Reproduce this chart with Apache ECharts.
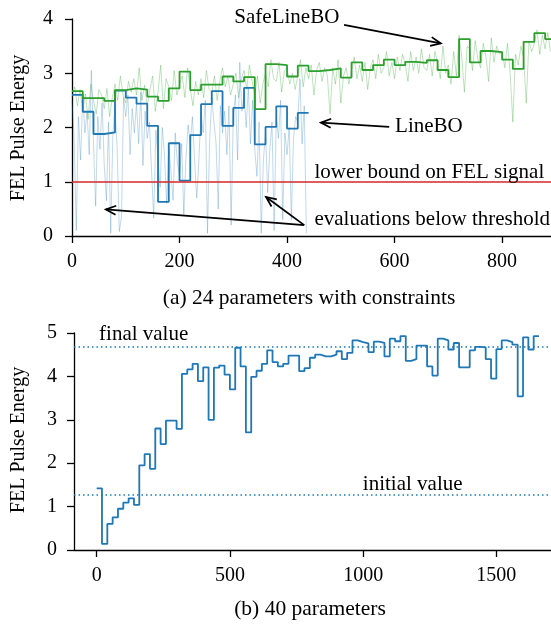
<!DOCTYPE html>
<html><head><meta charset="utf-8">
<script src="https://cdn.jsdelivr.net/npm/echarts@6/dist/echarts.min.js"></script>
<style>html,body{margin:0;padding:0;background:#fff;}#c{width:551px;height:632px;}</style>
</head><body><div id="c"></div>
<script>
// ---------- DATA ----------
// (a) 24 parameters with constraints: step values per line-search segment (segment length in iterations)
const segLenA = 20;
const safeLineBOStep = [2.67, 2.54, 2.54, 2.49, 2.69, 2.72, 2.70, 2.57, 2.49, 2.72, 3.03, 2.69, 2.79, 2.79, 2.94, 2.85, 2.93, 2.34, 3.17, 3.15, 2.94, 3.14, 3.04, 3.06, 3.09, 2.92, 3.20, 3.06, 3.15, 3.25, 3.15, 3.21, 3.19, 3.24, 3.06, 2.93, 3.63, 3.20, 3.41, 3.39, 3.25, 3.08, 3.58, 3.74, 3.63];
const lineBOStep = [2.60, 2.29, 1.88, 1.91, 2.68, 2.55, 2.44, 2.03, 0.63, 1.71, 1.02, 1.86, 2.43, 2.67, 2.03, 2.36, 2.73, 1.69, 2.01, 2.39, 1.98, 2.27];
// raw evaluations (sampled every N iterations)
const safeRawEvery = 5;
const safeLineBORaw = [
 2.55, 2.75, 2.40, 2.70, 2.30, 2.62, 2.15, 2.80, 2.50, 2.25, 2.70, 2.60, 2.35, 2.72, 2.20, 2.55,
 2.80, 2.50, 2.95, 2.60, 2.45, 2.85, 2.65, 2.90, 2.60, 3.10, 2.50, 2.78, 2.40, 2.70, 2.95, 2.30,
 2.65, 3.15, 2.35, 2.90, 2.75, 2.50, 3.05, 2.60, 2.80, 2.95, 2.55, 3.10, 2.70, 2.40, 2.85, 2.60,
 2.90, 2.55, 3.05, 2.70, 2.65, 2.95, 2.50, 2.85, 3.10, 2.75, 2.95, 2.60, 2.80, 3.00, 2.55, 2.90,
 3.05, 2.70, 3.15, 2.85, 2.60, 2.95, 2.45, 2.80, 3.00, 2.75, 3.25, 2.90, 2.85, 3.20, 2.65, 3.05,
 3.10, 2.80, 3.00, 2.70, 2.95, 3.25, 2.75, 3.10, 2.90, 3.15, 2.60, 3.05, 3.20, 2.85, 3.10, 2.95,
 2.25, 3.10, 2.80, 3.25, 2.45, 2.95, 3.10, 2.80, 3.05, 3.30, 2.90, 3.15, 2.85, 3.20, 2.70, 3.10,
 3.25, 2.90, 3.35, 3.00, 3.10, 3.40, 2.95, 3.20, 2.90, 3.30, 3.05, 3.35, 3.15, 2.85, 3.40, 3.05,
 3.30, 3.00, 3.45, 3.10, 3.05, 3.35, 2.95, 3.40, 3.20, 2.90, 3.50, 3.00, 3.15, 2.80, 3.40, 2.95,
 3.70, 3.30, 2.65, 3.50, 3.45, 3.05, 3.60, 3.25, 3.10, 3.55, 3.30, 2.85, 3.65, 3.20, 3.50, 3.35,
 3.40, 3.10, 3.55, 3.00, 2.10, 3.35, 3.15, 3.50, 3.30, 2.45, 3.60, 3.40, 3.55, 3.80, 3.35, 3.70,
 3.45, 3.75, 3.40];
const lineRawEvery = 4;
const lineBORaw = [
 2.50, 1.80, 0.10, 2.20, 1.40, 2.60, 1.90, 2.30, 1.50, 3.05, 1.70, 0.55, 2.20, 1.60, 2.45,
 1.30, 0.65, 2.10, 0.05, 1.85, 2.40, 1.60, 0.08, 0.35, 2.55, 2.20, 2.60, 1.50, 2.35, 1.90,
 2.45, 1.70, 2.65, 1.30, 2.30, 1.80, 2.10, 1.20, 0.33, 1.95, 1.40, 0.90, 2.00, 1.50, 0.60,
 1.65, 1.20, 0.66, 1.90, 1.35, 1.10, 1.70, 0.40, 1.45, 2.05, 1.70, 2.20, 1.40, 0.70, 1.40,
 2.30, 1.90, 2.50, 0.05, 1.75, 2.55, 2.10, 1.70, 0.50, 2.40, 1.90, 2.30, 1.50, 2.40, 0.20,
 2.20, 2.60, 1.40, 3.20, 2.30, 2.60, 2.00, 2.75, 1.70, 2.50, 1.60, 1.10, 2.10, 0.05, 1.40,
 1.90, 0.80, 1.60, 2.10, 0.10, 2.20, 1.80, 2.50, 0.30, 1.90, 1.50, 2.00, 0.30, 1.80, 2.20,
 2.10, 2.90, 1.70, 2.40, 0.05];
const lowerBound = 1;
const topXTicks = [0, 200, 400, 600, 800];
const topYTicks = [0, 1, 2, 3, 4];

// (b) 40 parameters
const segLenB = 20;
const b40Step = [1.42, 0.14, 0.60, 0.75, 0.95, 1.09, 1.19, 1.04, 1.95, 2.21, 1.87, 2.80, 2.44, 2.98, 2.98, 2.79, 4.06, 4.16, 4.29, 3.89,
 4.21, 3.00, 4.20, 4.25, 4.04, 3.70, 4.66, 4.23, 2.71, 3.99, 4.13, 4.29, 4.60, 4.33, 4.23, 4.29, 4.48, 4.48, 4.12, 4.19,
 4.43, 4.50, 4.46, 4.46, 4.50, 4.58, 4.40, 4.54, 4.83, 4.79, 4.76, 4.56, 4.80, 4.77, 4.46, 4.87, 4.81, 4.93, 4.36, 4.40,
 4.71, 4.71, 4.23, 4.02, 4.87, 4.83, 4.62, 4.77, 4.21, 4.21, 4.60, 4.68, 4.67, 4.40, 3.95, 4.63, 4.83, 4.79, 4.73, 3.54,
 4.90, 4.62, 4.93];
const initialValue = 1.27;
const finalValue = 4.69;
const bottomXTicks = [0, 500, 1000, 1500];
const bottomYTicks = [0, 1, 2, 3, 4, 5];

// ---------- BUILD ----------
const BLUE = '#1f77b4', GREEN = '#2ca02c', RED = '#d62728';
const FONT = "'Liberation Serif', 'DejaVu Serif', serif";
function stepPairs(vals, len) {
  const d = vals.map((v, i) => [i * len, v]);
  d.push([vals.length * len, vals[vals.length - 1]]);
  return d;
}
function rawPairs(vals, every) { return vals.map((v, i) => [i * every, v]); }
const plain = v => String(v);

const axisCommon = {
  axisLine: { show: true, onZero: false, lineStyle: { color: '#000', width: 1.3 } },
  axisTick: { show: true, inside: false, length: 7, lineStyle: { color: '#000', width: 1.3 } },
  splitLine: { show: false },
  axisLabel: { color: '#000', fontFamily: FONT, fontSize: 20 }
};
function ax(extra) {
  const o = JSON.parse(JSON.stringify(axisCommon));
  for (const k in extra) {
    if (typeof extra[k] === 'object' && !Array.isArray(extra[k]) && o[k]) Object.assign(o[k], extra[k]);
    else o[k] = extra[k];
  }
  o.axisLabel.formatter = plain;
  return o;
}

const option = {
  animation: false,
  backgroundColor: '#fff',
  grid: [
    { left: 72, top: 19, right: 0, height: 217 },
    { left: 74, top: 333, right: 0, height: 217 }
  ],
  xAxis: [
    ax({ type: 'value', gridIndex: 0, min: 0, max: 891,
      axisLabel: { margin: 16, customValues: topXTicks }, axisTick: { customValues: topXTicks } }),
    ax({ type: 'value', gridIndex: 1, min: -85, max: 1705,
      axisLabel: { margin: 16, customValues: bottomXTicks }, axisTick: { customValues: bottomXTicks } })
  ],
  yAxis: [
    ax({ type: 'value', gridIndex: 0, min: 0, max: 4,
      axisLabel: { margin: 19, customValues: topYTicks }, axisTick: { customValues: topYTicks } }),
    ax({ type: 'value', gridIndex: 1, min: 0, max: 5,
      axisLabel: { margin: 17, customValues: bottomYTicks }, axisTick: { customValues: bottomYTicks } })
  ],
  series: [
    { type: 'line', xAxisIndex: 0, yAxisIndex: 0, data: rawPairs(safeLineBORaw, safeRawEvery), showSymbol: false,
      lineStyle: { color: GREEN, width: 1, opacity: 0.3 }, z: 1, silent: true },
    { type: 'line', xAxisIndex: 0, yAxisIndex: 0, data: rawPairs(lineBORaw, lineRawEvery), showSymbol: false,
      lineStyle: { color: BLUE, width: 1, opacity: 0.28 }, z: 2, silent: true,
      markLine: { silent: true, symbol: 'none', label: { show: false },
        lineStyle: { color: RED, width: 1.5, type: 'solid', opacity: 1 }, data: [{ yAxis: lowerBound }] } },
    { type: 'line', xAxisIndex: 0, yAxisIndex: 0, data: stepPairs(lineBOStep, segLenA), step: 'end', showSymbol: false,
      lineStyle: { color: BLUE, width: 1.8 }, z: 4, silent: true },
    { type: 'line', xAxisIndex: 0, yAxisIndex: 0, data: stepPairs(safeLineBOStep, segLenA), step: 'end', showSymbol: false,
      lineStyle: { color: GREEN, width: 1.8 }, z: 5, silent: true },
    { type: 'line', xAxisIndex: 1, yAxisIndex: 1, data: stepPairs(b40Step, segLenB), step: 'end', showSymbol: false,
      lineStyle: { color: BLUE, width: 1.8 }, z: 4, silent: true,
      markLine: { silent: true, symbol: 'none', label: { show: false },
        lineStyle: { color: BLUE, width: 1.5, type: [1.5, 3], opacity: 1 },
        data: [{ yAxis: initialValue }, { yAxis: finalValue }] } }
  ]
};

const chart = echarts.init(document.getElementById('c'), null, { renderer: 'canvas' });
chart.setOption(option);

function P(g, x, y) { return chart.convertToPixel({ gridIndex: g }, [x, y]); }
function text(str, pos, align, size, extra) {
  return Object.assign({ type: 'text', x: pos[0], y: pos[1], z: 100,
    style: { text: str, fill: '#000', fontFamily: FONT, fontSize: size || 21, align: align || 'left', verticalAlign: 'middle' } }, extra || {});
}
function arrow(a, b) {
  const ang = Math.atan2(b[1] - a[1], b[0] - a[0]);
  const L = 11, w = 0.42;
  const h1 = [b[0] - L * Math.cos(ang - w), b[1] - L * Math.sin(ang - w)];
  const h2 = [b[0] - L * Math.cos(ang + w), b[1] - L * Math.sin(ang + w)];
  return [
    { type: 'polyline', z: 100, shape: { points: [a, b] }, style: { stroke: '#000', lineWidth: 1.8, fill: null } },
    { type: 'polyline', z: 100, shape: { points: [h1, b, h2] }, style: { stroke: '#000', lineWidth: 1.8, fill: null } }
  ];
}

const evalFrom = P(0, 432, 0.2);
const graphic = [
  text('SafeLineBO', P(0, 302, 4.03)),
  ...arrow(P(0, 506, 3.89), P(0, 686, 3.55)),
  text('LineBO', P(0, 601, 2.01)),
  ...arrow(P(0, 590, 2.01), P(0, 463, 2.09)),
  text('lower bound on FEL signal', P(0, 451, 1.18)),
  text('evaluations below threshold', P(0, 451, 0.30)),
  ...arrow(evalFrom, P(0, 63, 0.49)),
  ...arrow(evalFrom, P(0, 361, 0.72)),
  text('final value', P(1, 9, 4.97)),
  text('initial value', P(1, 999, 1.50)),
  text('(a) 24 parameters with constraints', [309, 298], 'center', 21.5),
  text('(b) 40 parameters', [310, 609], 'center', 21.5),
  text('FEL Pulse Energy', [19, 128], 'center', 20, { rotation: Math.PI / 2 }),
  text('FEL Pulse Energy', [19, 440], 'center', 20, { rotation: Math.PI / 2 })
];
chart.setOption({ graphic: graphic });
</script>
</body></html>
